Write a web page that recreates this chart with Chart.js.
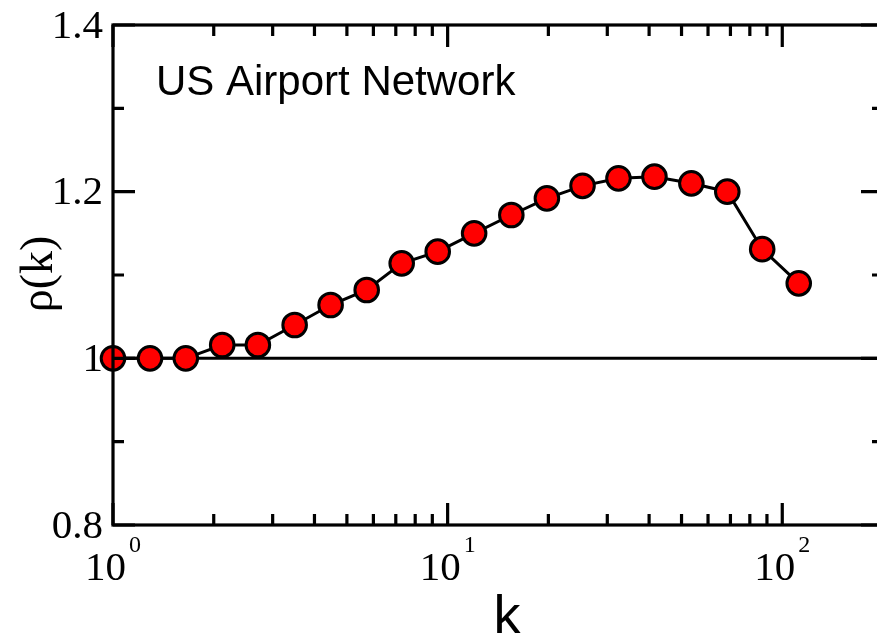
<!DOCTYPE html>
<html>
<head>
<meta charset="utf-8">
<script src="https://cdn.jsdelivr.net/npm/chart.js@4.4.1/dist/chart.umd.min.js"></script>
<style>
  html, body { margin: 0; padding: 0; background: #fff; overflow: hidden; width: 877px; height: 640px; }
  #wrap { width: 900px; height: 640px; }
</style>
</head>
<body>
<div id="wrap"><canvas id="c" width="900" height="640"></canvas></div>
<script>
// Degree k and degree-dependent ratio rho(k)
const degrees = [1, 1.29, 1.65, 2.12, 2.71, 3.49, 4.47, 5.73, 7.29, 9.34, 12.0, 15.5, 19.8, 25.3, 32.4, 41.5, 53.5, 68.5, 87.1, 112];
const rho     = [1.000, 1.000, 1.000, 1.016, 1.016, 1.040, 1.064, 1.082, 1.114, 1.128, 1.150, 1.172, 1.192, 1.207, 1.216, 1.218, 1.210, 1.200, 1.131, 1.090];

// Axis ticks
const yMajorTicks = [0.8, 1.0, 1.2, 1.4];
const yTickLabels = ['0.8', '1', '1.2', '1.4'];
const yMinorTicks = [0.9, 1.1, 1.3];
const xMajorTicks = [1, 10, 100];
const xTickExponents = ['0', '1', '2'];
const xMinorTicks = [2, 3, 4, 5, 6, 7, 8, 9, 20, 30, 40, 50, 60, 70, 80, 90];
const referenceLevel = 1.0;

const titleText = 'US Airport Network';
const xTitle = 'k';
const yTitle = 'ρ(k)';

const SERIF = "'Liberation Serif', 'Times New Roman', serif";
const SANS = "'Liberation Sans', Arial, sans-serif";

const framePlugin = {
  id: 'frame',
  beforeDatasetsDraw(chart) {
    const { ctx, chartArea: a, scales: { x, y } } = chart;
    ctx.save();
    // reference line at rho = 1
    const py1 = y.getPixelForValue(referenceLevel);
    ctx.strokeStyle = '#000';
    ctx.lineWidth = 3;
    ctx.beginPath();
    ctx.moveTo(a.left, py1);
    ctx.lineTo(a.right, py1);
    ctx.stroke();

    ctx.fillStyle = '#000';
    // y tick labels
    ctx.font = '41px ' + SERIF;
    ctx.textAlign = 'right';
    ctx.textBaseline = 'middle';
    yMajorTicks.forEach((v, i) => {
      ctx.fillText(yTickLabels[i], a.left - 10, y.getPixelForValue(v) + 2);
    });

    // x tick labels as powers of ten
    ctx.textBaseline = 'alphabetic';
    ctx.textAlign = 'left';
    xMajorTicks.forEach((v, i) => {
      const px = x.getPixelForValue(v);
      ctx.font = '41px ' + SERIF;
      const wBase = ctx.measureText('10').width;
      ctx.font = '24px ' + SERIF;
      const wExp = ctx.measureText(xTickExponents[i]).width;
      const start = px - (wBase + 3 + wExp) / 2;
      ctx.font = '41px ' + SERIF;
      ctx.fillText('10', start, 580);
      ctx.font = '24px ' + SERIF;
      ctx.fillText(xTickExponents[i], start + wBase + 3, 552);
    });

    // axis titles
    ctx.font = '54px ' + SANS;
    ctx.textAlign = 'center';
    ctx.fillText(xTitle, 507, 633);

    ctx.save();
    ctx.translate(40, 274);
    ctx.rotate(-Math.PI / 2);
    ctx.font = '46px ' + SERIF;
    ctx.textAlign = 'center';
    ctx.textBaseline = 'middle';
    ctx.fillText(yTitle, 0, 0);
    ctx.restore();

    // in-plot caption
    ctx.font = '42px ' + SANS;
    ctx.textAlign = 'left';
    ctx.textBaseline = 'alphabetic';
    ctx.fillText(titleText, 156, 95);
    ctx.restore();
  },
  afterDatasetsDraw(chart) {
    const { ctx, chartArea: a, scales: { x, y } } = chart;
    ctx.save();
    ctx.strokeStyle = '#000';
    ctx.lineWidth = 3.2;
    ctx.strokeRect(a.left, a.top, a.right - a.left, a.bottom - a.top);

    const MAJOR = 22, MINOR = 11;
    ctx.beginPath();
    const yTick = (v, len) => {
      const py = y.getPixelForValue(v);
      ctx.moveTo(a.left, py); ctx.lineTo(a.left + len, py);
      ctx.moveTo(a.right, py); ctx.lineTo(a.right - len, py);
    };
    const xTick = (v, len) => {
      const px = x.getPixelForValue(v);
      ctx.moveTo(px, a.bottom); ctx.lineTo(px, a.bottom - len);
      ctx.moveTo(px, a.top); ctx.lineTo(px, a.top + len);
    };
    yMajorTicks.forEach(v => yTick(v, MAJOR));
    yMinorTicks.forEach(v => yTick(v, MINOR));
    xMajorTicks.forEach(v => xTick(v, MAJOR));
    xMinorTicks.forEach(v => xTick(v, MINOR));
    ctx.stroke();
    ctx.restore();
  }
};

new Chart(document.getElementById('c'), {
  type: 'scatter',
  data: {
    datasets: [{
      data: degrees.map((k, i) => ({ x: k, y: rho[i] })),
      showLine: true,
      borderColor: '#000',
      borderWidth: 3,
      pointRadius: 11.8,
      pointBackgroundColor: '#ff0000',
      pointBorderColor: '#000',
      pointBorderWidth: 3,
      clip: false
    }]
  },
  options: {
    responsive: false,
    animation: false,
    layout: { padding: { left: 113, top: 25, right: 17, bottom: 115 } },
    plugins: { legend: { display: false }, tooltip: { enabled: false } },
    scales: {
      x: { type: 'logarithmic', min: 1, max: 200, display: false },
      y: { type: 'linear', min: 0.8, max: 1.4, display: false }
    }
  },
  plugins: [framePlugin]
});
</script>
</body>
</html>
